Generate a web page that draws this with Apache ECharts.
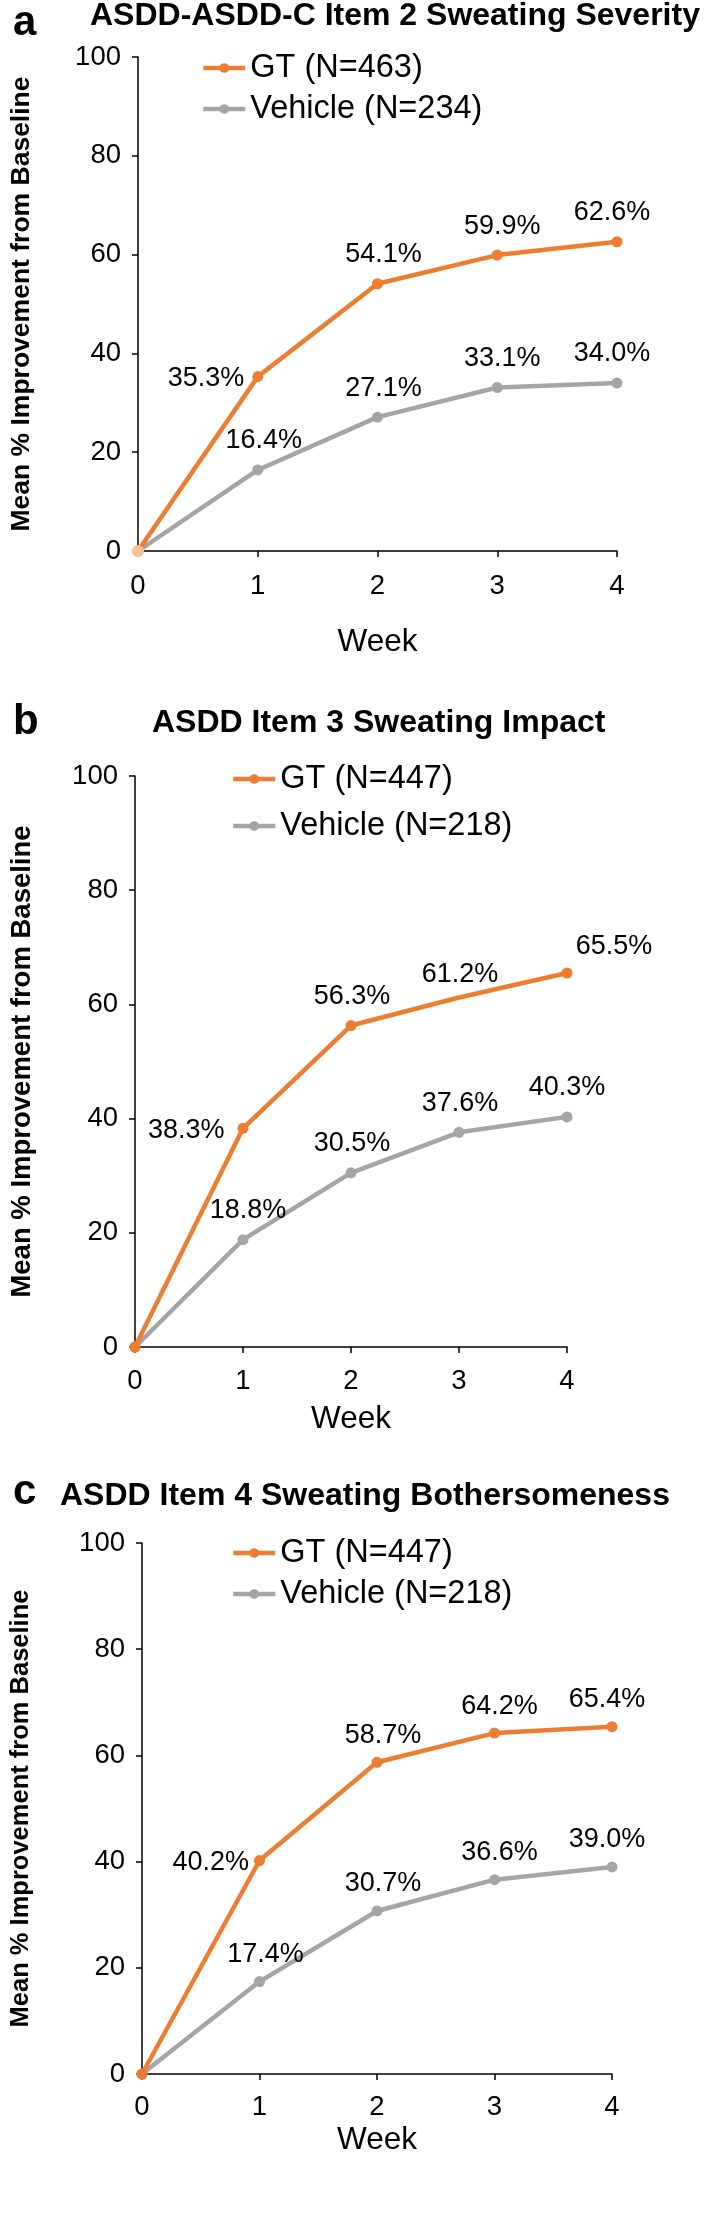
<!DOCTYPE html>
<html>
<head>
<meta charset="utf-8">
<script src="https://cdn.jsdelivr.net/npm/echarts@6/dist/echarts.min.js"></script>
<style>
  html, body { margin: 0; padding: 0; background: #fff; }
  #main { width: 708px; height: 2231px; }
</style>
</head>
<body>
<div id="main"></div>
<script>
// data
const weeks = [0, 1, 2, 3, 4];
const panelLetters = ['a', 'b', 'c'];
const panelTitles = [
  'ASDD-ASDD-C Item 2 Sweating Severity',
  'ASDD Item 3 Sweating Impact',
  'ASDD Item 4 Sweating Bothersomeness'
];
const gtNames = ['GT (N=463)', 'GT (N=447)', 'GT (N=447)'];
const vehicleNames = ['Vehicle (N=234)', 'Vehicle (N=218)', 'Vehicle (N=218)'];

const gtSeverity = [0, 35.3, 54.1, 59.9, 62.6];
const vehicleSeverity = [0, 16.4, 27.1, 33.1, 34.0];
const gtImpact = [0, 38.3, 56.3, 61.2, 65.5];
const vehicleImpact = [0, 18.8, 30.5, 37.6, 40.3];
const gtBother = [0, 40.2, 58.7, 64.2, 65.4];
const vehicleBother = [0, 17.4, 30.7, 36.6, 39.0];

const gtData = [gtSeverity, gtImpact, gtBother];
const vehicleData = [vehicleSeverity, vehicleImpact, vehicleBother];

// layout / styling per panel
const FONT = '"Liberation Sans", Arial, sans-serif';
const ORANGE = '#ED7D31';
const GRAY = '#A5A5A5';

const layout = [
  { grid: { left: 130, top: 57, width: 487, height: 494 },
    title: { left: 90, top: 0 }, letter: { left: 13, top: 2 },
    legend: { left: 201, top: 51, gap: 41 },
    yNameSize: 26.5, yNameGap: 103, xNameGap: 75, xLabelMargin: 21,
    dx: [0, 6, 6, 5, -5], dist: 10, leftDist: 8 },
  { grid: { left: 130, top: 776, width: 437, height: 571 },
    title: { left: 152, top: 707 }, letter: { left: 13, top: 701 },
    legend: { left: 231, top: 762, gap: 47 },
    yNameSize: 27.5, yNameGap: 99, xNameGap: 56, xLabelMargin: 20,
    dx: [0, 5, 1, 1, 0], dist: 10, leftDist: 13 },
  { grid: { left: 140, top: 1543, width: 472, height: 531 },
    title: { left: 60, top: 1480 }, letter: { left: 13, top: 1471 },
    legend: { left: 231, top: 1536, gap: 41 },
    yNameSize: 25.5, yNameGap: 108, xNameGap: 50, xLabelMargin: 19,
    dx: [0, 6, 6, 5, -5], dist: 8, leftDist: 5 }
];

const chart = echarts.init(document.getElementById('main'), null, { renderer: 'canvas' });

const titles = [], legends = [], grids = [], xAxes = [], yAxes = [], series = [];

function buildPoints(values, p, isGT) {
  const L = layout[p];
  return weeks.map(function (w, i) {
    const item = { value: [w, values[i]] };
    if (i === 0) {
      item.label = { show: false };
      if (isGT && p === 0) {
        item.symbolSize = 12;
        item.itemStyle = { color: '#F7C29B' };
      }
      return item;
    }
    if (isGT && i === 1) {
      item.label = { position: 'left', distance: L.leftDist, offset: [0, 2] };
    } else {
      item.label = { position: 'top', distance: L.dist, offset: [L.dx[i], 0] };
    }
    // panel b: GT week 3 drawn without a marker, week 4 label pushed right
    if (p === 1 && isGT && i === 3) item.symbolSize = 0;
    if (p === 1 && isGT && i === 4) item.label = { position: 'top', distance: L.dist, offset: [47, 3] };
    return item;
  });
}

layout.forEach(function (L, p) {
  titles.push({
    text: panelTitles[p], left: L.title.left, top: L.title.top, padding: 0,
    textStyle: { fontFamily: FONT, fontSize: 32, fontWeight: 'bold', color: '#000' }
  });
  titles.push({
    text: panelLetters[p], left: L.letter.left, top: L.letter.top, padding: 0,
    textStyle: { fontFamily: FONT, fontSize: 42, fontWeight: 'bold', color: '#000' }
  });
  legends.push({
    orient: 'vertical', left: L.legend.left, top: L.legend.top, padding: 0,
    itemWidth: 42, itemHeight: 12, itemGap: L.legend.gap - 34,
    lineStyle: { width: 4.5 },
    data: [gtNames[p], vehicleNames[p]],
    textStyle: { fontFamily: FONT, fontSize: 32.5, color: '#000', lineHeight: 34 }
  });
  grids.push(Object.assign({ containLabel: false }, L.grid));
  xAxes.push({
    type: 'value', gridIndex: p, min: 0, max: 4, interval: 1,
    name: 'Week', nameLocation: 'middle', nameGap: L.xNameGap,
    nameTextStyle: { fontFamily: FONT, fontSize: 31.5, color: '#000' },
    axisLine: { show: true, lineStyle: { color: '#000', width: 1.5 } },
    axisTick: { show: true, length: 6, lineStyle: { color: '#000', width: 1.5 } },
    axisLabel: { fontFamily: FONT, fontSize: 27.5, color: '#000', margin: L.xLabelMargin },
    splitLine: { show: false }
  });
  yAxes.push({
    type: 'value', gridIndex: p, min: 0, max: 100, interval: 20,
    name: 'Mean % Improvement from Baseline', nameLocation: 'middle', nameGap: L.yNameGap,
    nameTextStyle: { fontFamily: FONT, fontSize: L.yNameSize, fontWeight: 'bold', color: '#000' },
    axisLine: { show: true, lineStyle: { color: '#000', width: 1.5 } },
    axisTick: { show: true, length: 6, lineStyle: { color: '#000', width: 1.5 } },
    axisLabel: { fontFamily: FONT, fontSize: 27.5, color: '#000', margin: 17 },
    splitLine: { show: false }
  });
  const common = {
    type: 'line', xAxisIndex: p, yAxisIndex: p,
    symbol: 'circle', symbolSize: 11, showAllSymbol: true,
    label: {
      show: true, fontFamily: FONT, fontSize: 27, color: '#000',
      formatter: function (d) { return d.value[1].toFixed(1) + '%'; }
    },
    emphasis: { disabled: true }
  };
  // vehicle first so the GT marker sits on top at week 0
  series.push(Object.assign({}, common, {
    name: vehicleNames[p],
    data: buildPoints(vehicleData[p], p, false),
    itemStyle: { color: GRAY },
    lineStyle: { color: GRAY, width: 4.5 }
  }));
  series.push(Object.assign({}, common, {
    name: gtNames[p],
    data: buildPoints(gtData[p], p, true),
    itemStyle: { color: ORANGE },
    lineStyle: { color: ORANGE, width: 4.5 }
  }));
});

chart.setOption({
  animation: false,
  backgroundColor: '#fff',
  title: titles,
  legend: legends,
  grid: grids,
  xAxis: xAxes,
  yAxis: yAxes,
  series: series
});
</script>
</body>
</html>
